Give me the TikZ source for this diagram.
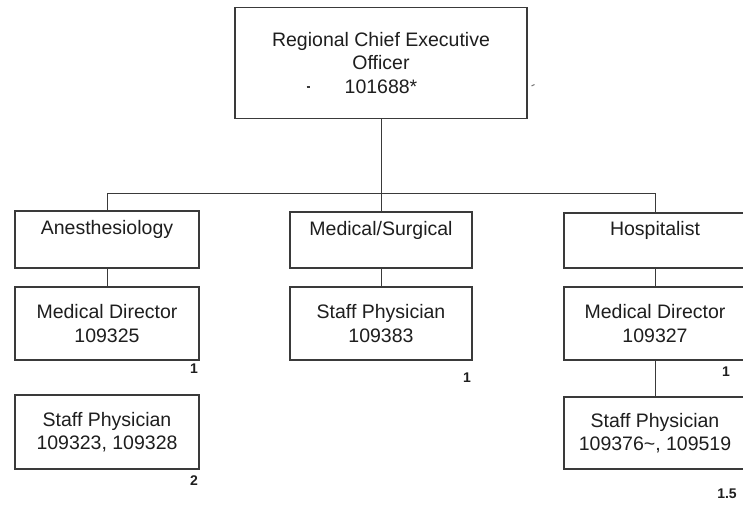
\documentclass[tikz,border=0pt]{standalone}
\usepackage{fontspec}
\setmainfont{Liberation Sans}
\definecolor{ink}{HTML}{1E1E1E}
\definecolor{edge}{HTML}{3A3A3A}
\begin{document}
\begin{tikzpicture}[x=1pt,y=-1pt,
  orgbox/.style={draw=edge,line width=1.1pt,fill=white,text=ink,align=center,
    inner sep=0pt,font=\fontsize{19.5}{23.5}\selectfont},
  conn/.style={draw=edge,line width=1pt},
  fte/.style={text=ink,inner sep=0pt,font=\fontsize{14}{16}\selectfont\bfseries}]
\useasboundingbox (0,0) rectangle (743,506);
\clip (0,0) rectangle (743,506);
\fill[white] (0,0) rectangle (743,506);

\node[orgbox,minimum width=292pt,minimum height=111pt] (ceo) at (381,63)
  {Regional Chief Executive\\Officer\\101688*};

\node[orgbox,minimum width=184pt,minimum height=57pt] (anes) at (107,239.5)
  {Anesthesiology\\\mbox{}};
\node[orgbox,minimum width=182pt,minimum height=56pt] (medsurg) at (381,240)
  {Medical/Surgical\\\mbox{}};
\node[orgbox,minimum width=182pt,minimum height=55pt] (hosp) at (655,240.5)
  {Hospitalist\\\mbox{}};

\node[orgbox,minimum width=184pt,minimum height=73pt] (anesmd) at (107,323.5)
  {Medical Director\\109325};
\node[orgbox,minimum width=184pt,minimum height=74pt] (anessp) at (107,432)
  {Staff Physician\\109323, 109328};
\node[orgbox,minimum width=182pt,minimum height=73pt] (medsp) at (381,323.5)
  {Staff Physician\\109383};
\node[orgbox,minimum width=182pt,minimum height=73pt] (hospmd) at (655,323.5)
  {Medical Director\\109327};
\node[orgbox,minimum width=182pt,minimum height=72pt] (hospsp) at (655,433)
  {Staff Physician\\109376\textasciitilde, 109519};

\coordinate (bus) at (381,193);
\draw[conn] (ceo.south) -- (bus);
\draw[conn] (anes.north) -- (anes.north |- bus) -- (hosp.north |- bus) -- (hosp.north);
\draw[conn] (medsurg.north) -- (medsurg.north |- bus);
\draw[conn] (anes.south) -- (anesmd.north);
\draw[conn] (medsurg.south) -- (medsp.north);
\draw[conn] (hosp.south) -- (hospmd.north);
\draw[conn] (hospmd.south) -- (hospsp.north);

\node[fte] (n1) at (194,369) {1};
\node[fte] (n2) at (194,481) {2};
\node[fte] (n3) at (467,378) {1};
\node[fte] (n4) at (726,372) {1};
\node[fte] (n5) at (727,494) {1.5};

\draw[edge,line width=1.2pt] (306.5,87) -- (309.5,87);
\draw[edge!70,line width=1pt] (531.5,86) -- (534.5,84.5);
\end{tikzpicture}
\end{document}
